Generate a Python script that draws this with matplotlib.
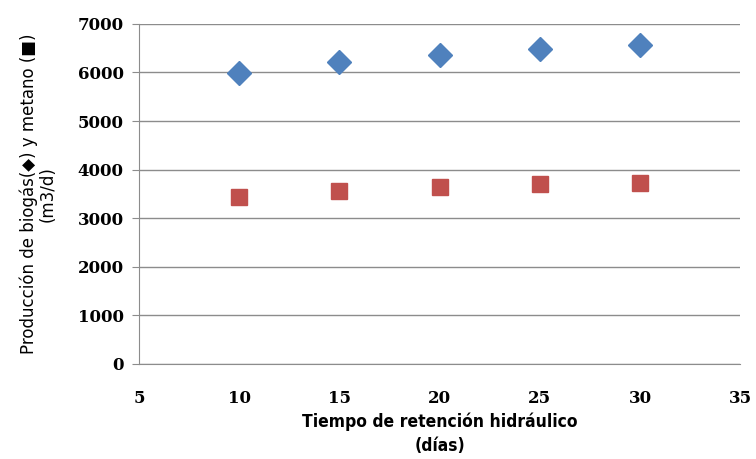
import matplotlib.pyplot as plt

# Biogas and methane production vs hydraulic retention time
trh_dias = [10, 15, 20, 25, 30]
biogas_m3d = [5985, 6220, 6355, 6480, 6560]
metano_m3d = [3430, 3550, 3645, 3695, 3735]

x_ticks = [5, 10, 15, 20, 25, 30, 35]
y_ticks = [0, 1000, 2000, 3000, 4000, 5000, 6000, 7000]

fig = plt.figure(figsize=(7.56, 4.59), dpi=100)
ax = fig.add_axes([0.184, 0.207, 0.795, 0.741])

ax.plot(trh_dias, biogas_m3d, linestyle="none", marker="D", markersize=12.5,
        color="#4F81BD", zorder=3)
ax.plot(trh_dias, metano_m3d, linestyle="none", marker="s", markersize=12,
        color="#C0504D", zorder=3)

ax.set_xlim(5, 35)
ax.set_ylim(0, 7000)
ax.set_xticks(x_ticks)
ax.set_yticks(y_ticks)
ax.grid(axis="y", color="#8c8c8c", linewidth=1.0)
ax.set_axisbelow(True)

for s in ["top", "right"]:
    ax.spines[s].set_visible(False)
ax.spines["left"].set_color("#8c8c8c")
ax.spines["bottom"].set_color("#8c8c8c")
ax.tick_params(axis="y", length=5, color="#8c8c8c", pad=6)
ax.tick_params(axis="x", length=0, pad=19)

for lab in ax.get_xticklabels() + ax.get_yticklabels():
    lab.set_fontfamily("DejaVu Serif")
    lab.set_fontweight("bold")
    lab.set_fontsize(12)

ax.set_xlabel("Tiempo de retención hidráulico\n(días)", family="DejaVu Sans",
              fontstretch="condensed", fontweight="bold", fontsize=12.5,
              labelpad=4, linespacing=1.4)
ax.set_ylabel("Producción de biogás(\u25c6) y metano (\u25a0)\n(m3/d)",
              family="DejaVu Sans", fontsize=12, labelpad=15, linespacing=1.05)

fig.savefig("out.png", dpi=100)
